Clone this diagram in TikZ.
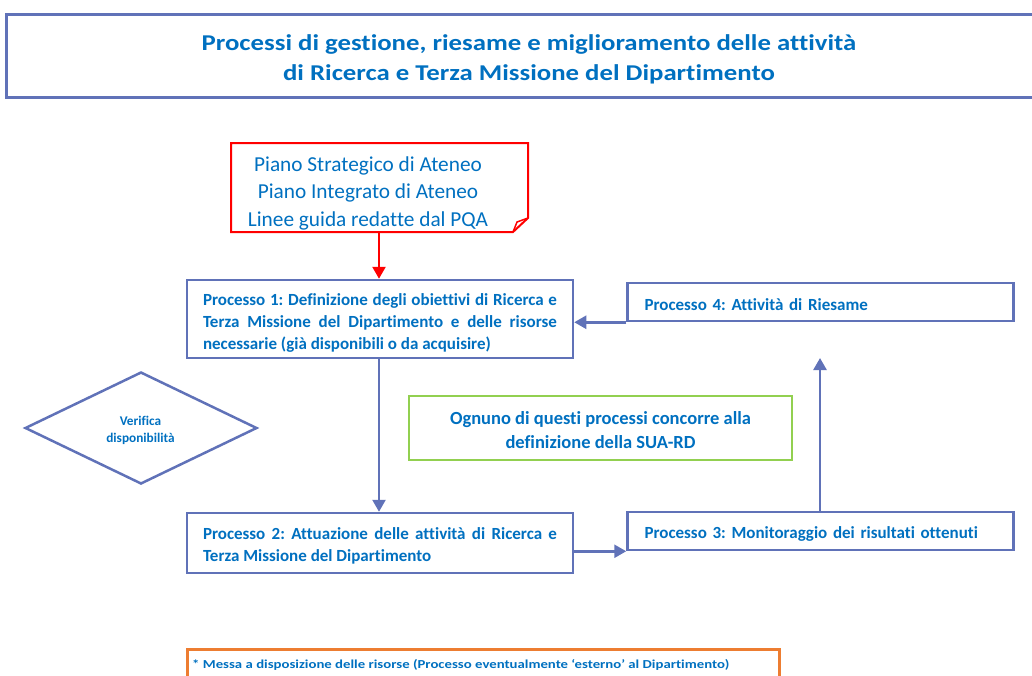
\documentclass[tikz,border=0pt]{standalone}
\usepackage{fontspec}
\setmainfont{Carlito}[Ligatures=NoCommon]
\newfontfamily\widefont{Carlito}[Ligatures=NoCommon, FakeStretch=1.185]
\newfontfamily\orangefont{Carlito}[Ligatures=NoCommon, FakeStretch=1.21]
\usetikzlibrary{arrows.meta,shapes.geometric}
\definecolor{txtblue}{HTML}{0070C0}
\definecolor{boxblue}{RGB}{96,114,184}
\definecolor{redline}{HTML}{FF0000}
\definecolor{greenline}{HTML}{92D050}
\definecolor{orangeline}{HTML}{ED7D31}
\frenchspacing
\hyphenpenalty=10000
\exhyphenpenalty=10000
\tikzset{
  pbox/.style={draw=boxblue, line width=2.5pt, fill=white, rectangle, inner xsep=16pt, inner ysep=0pt,
    text=txtblue, font=\fontsize{17}{22}\selectfont\bfseries, text width=354pt, align=justify},
  ptext/.style={text=txtblue, font=\fontsize{17}{22}\selectfont\bfseries, text width=354pt, align=justify, inner sep=0pt},
  flow/.style={draw=boxblue, line width=2.5pt, -{Triangle[width=13pt,length=12pt]}},
  redflow/.style={draw=redline, line width=2.5pt, -{Triangle[width=13pt,length=12pt]}},
}
\begin{document}
\begin{tikzpicture}[x=1pt,y=-1pt]
\useasboundingbox (0,0) rectangle (1032,675);
% title
\node[draw=boxblue, line width=3pt, rectangle, minimum width=1045pt, minimum height=83pt, anchor=north west, inner sep=0pt] (title) at (5,13) {};
\node[text=txtblue, font=\widefont\fontsize{22.6}{30.5}\selectfont\bfseries, align=center] (titletext) at (529,59.5)
  {Processi di gestione, riesame e miglioramento delle attività\\di Ricerca e Terza Missione del Dipartimento};
% red note box with folded corner
\coordinate (rA) at (231,143);
\coordinate (rB) at (528,143);
\coordinate (rC) at (528,218);
\coordinate (rD) at (513,232);
\coordinate (rE) at (231,232);
\draw[redline, line width=2pt, line join=miter] (rA) -- (rB) -- (rC) -- (rD) -- (rE) -- cycle;
\draw[redline, line width=1.5pt] (rD) -- (517,222) -- (rC);
\node[text=txtblue, font=\fontsize{21.3}{27.5}\selectfont, align=center, inner sep=0pt] (red) at (368,193)
  {Piano Strategico di Ateneo\\Piano Integrato di Ateneo\\Linee guida redatte dal PQA};
\coordinate (redbot) at (379,232);
% processes (boxes)
\node[pbox, minimum width=386pt, minimum height=78pt] (p1) at (380,319) {};
\node[pbox, minimum width=386pt, minimum height=60pt] (p2) at (380,543) {};
\node[pbox, minimum width=385pt, minimum height=38pt] (p4) at (820.5,302) {};
\node[pbox, minimum width=385pt, minimum height=38pt] (p3) at (820.5,531) {};
% processes (texts)
\node[ptext] (p1t) at (380,322.5)
  {Processo 1: Definizione degli obiettivi di Ricerca e\linebreak Terza Missione del Dipartimento e delle risorse\linebreak necessarie (già disponibili o da acquisire)};
\node[ptext] (p2t) at (380,546)
  {Processo 2: Attuazione delle attività di Ricerca e\linebreak Terza Missione del Dipartimento};
\node[ptext, align=left, text width=352pt] (p4t) at (820.5,305)
  {Processo 4: Attività di Riesame};
\node[ptext, align=left, text width=352pt] (p3t) at (820.5,534)
  {Processo 3: Monitoraggio dei risultati ottenuti};
% diamond
\node[diamond, draw=boxblue, line width=2.5pt, minimum width=232pt, minimum height=112pt, inner sep=0pt] (diam) at (141,428) {};
\node[text=txtblue, font=\fontsize{13.3}{17}\selectfont\bfseries, align=center, inner sep=0pt] (diamt) at (140.5,430)
  {Verifica\\disponibilità};
% green box
\node[draw=greenline, line width=2pt, minimum width=383pt, minimum height=64pt, inner sep=0pt] (green) at (600.5,428) {};
\node[text=txtblue, font=\fontsize{18.5}{24}\selectfont\bfseries, align=center, inner sep=0pt] (greent) at (600.5,430)
  {Ognuno di questi processi concorre alla\\definizione della SUA-RD};
% orange box
\node[draw=orangeline, line width=2.5pt, anchor=north west, minimum width=592pt, minimum height=45pt, inner sep=0pt] (orange) at (186,648) {};
\node[text=txtblue, font=\orangefont\fontsize{12.2}{15}\selectfont\bfseries, anchor=west, inner sep=0pt] (oranget) at (192,664.5)
  {* Messa a disposizione delle risorse (Processo eventualmente ‘esterno’ al Dipartimento)};
% connectors
\draw[redflow] (redbot) -- (p1.north -| redbot);
\draw[flow] (p1.south -| redbot) -- (p2.north -| redbot);
\draw[flow] (p4.south west) -- (p1.east |- p4.south);
\draw[flow] (p2.east |- p3.south) -- (p3.south west);
\coordinate (up) at (820,358);
\draw[flow] (p3.north -| up) -- (up);
\end{tikzpicture}
\end{document}
